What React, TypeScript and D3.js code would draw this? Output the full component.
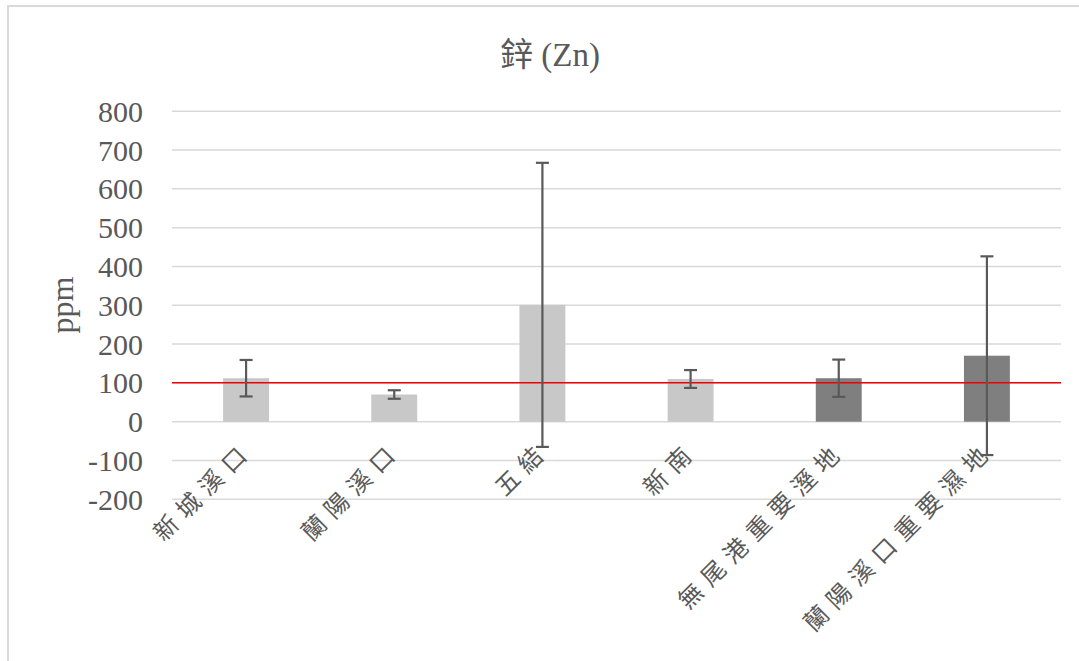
import React from "react";
import * as d3 from "d3";

const categories = ["新城溪口", "蘭陽溪口", "五結", "新南", "無尾港重要溼地", "蘭陽溪口重要濕地"];
const means = [112, 70, 301, 110, 112, 170];
const errors = [47, 11, 366, 23, 48, 256];
const groups = ["site", "site", "site", "site", "wetland", "wetland"];
const yTicks = [-200, -100, 0, 100, 200, 300, 400, 500, 600, 700, 800];
const standard = 100;
const title = "鋅 (Zn)";
const yLabel = "ppm";

const W = 1079;
const H = 661;
const plot = { left: 172, right: 1061, top: 111.2, bottom: 499.3 };
const serif = "'Liberation Serif', 'Times New Roman', 'Noto Sans CJK TC', serif";
const cjk = "'Noto Sans CJK TC', 'Noto Sans CJK SC', sans-serif";
const textColor = "#595959";

export default function App() {
  const x = d3.scaleBand<string>().domain(categories).range([plot.left, plot.right]).padding(0);
  const y = d3.scaleLinear().domain([-200, 800]).range([plot.bottom, plot.top]);
  const color = d3.scaleOrdinal<string, string>().domain(["site", "wetland"]).range(["#c8c8c8", "#7f7f7f"]);
  const barW = x.bandwidth() * 0.31;
  const capW = 13;

  return (
    <svg width={W} height={H} style={{ position: "absolute", left: 0, top: 0, background: "#fff" }}>
      <rect x={8} y={6} width={1200} height={800} fill="#fff" stroke="#d9d9d9" strokeWidth={2} />
      <text x={550} y={66} textAnchor="middle" fontFamily={serif} fontSize={33} fill={textColor}>
        {title}
      </text>
      {yTicks.map((t) => (
        <g key={t}>
          <line x1={plot.left} x2={plot.right} y1={y(t)} y2={y(t)} stroke="#d9d9d9" strokeWidth={1.5} />
          <text x={143} y={y(t)} dy="0.35em" textAnchor="end" fontFamily={serif} fontSize={30} fill={textColor}>
            {t}
          </text>
        </g>
      ))}
      <text transform={`translate(73,305) rotate(-90)`} textAnchor="middle" fontFamily={serif} fontSize={32} fill={textColor}>
        {yLabel}
      </text>
      {categories.map((c, i) => {
        const cx = (x(c) as number) + x.bandwidth() / 2;
        return (
          <rect key={c} x={cx - barW / 2} y={y(means[i])} width={barW} height={y(0) - y(means[i])} fill={color(groups[i])} />
        );
      })}
      <line x1={plot.left} x2={plot.right} y1={y(standard)} y2={y(standard)} stroke="#ee0000" strokeWidth={1.5} />
      {categories.map((c, i) => {
        const cx = (x(c) as number) + x.bandwidth() / 2;
        const hi = y(means[i] + errors[i]);
        const lo = y(means[i] - errors[i]);
        return (
          <g key={c} stroke="#595959" strokeWidth={2.2}>
            <line x1={cx} x2={cx} y1={hi} y2={lo} />
            <line x1={cx - capW / 2} x2={cx + capW / 2} y1={hi} y2={hi} />
            <line x1={cx - capW / 2} x2={cx + capW / 2} y1={lo} y2={lo} />
          </g>
        );
      })}
      {categories.map((c) => {
        const cx = (x(c) as number) + x.bandwidth() / 2;
        return (
          <text
            key={c}
            transform={`translate(${cx + 8},${452}) rotate(-45)`}
            textAnchor="end"
            fontFamily={cjk}
            fontSize={24}
            letterSpacing={8}
            fill={textColor}
          >
            {c}
          </text>
        );
      })}
    </svg>
  );
}
